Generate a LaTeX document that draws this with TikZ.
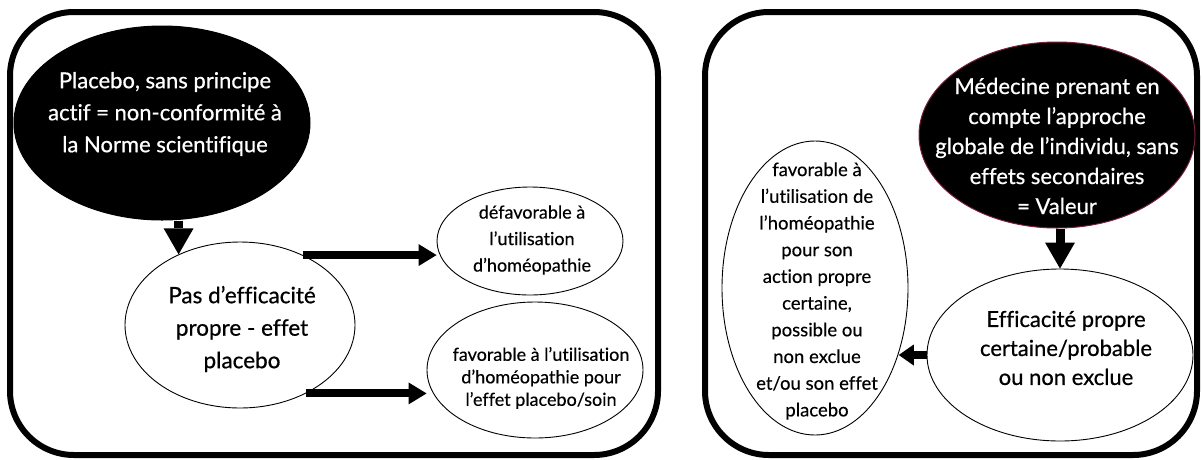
\documentclass[tikz,border=0pt]{standalone}
\usepackage{fontspec}
\setmainfont{Lato}[Ligatures=CommonOff]
\newfontfamily\gillS{Lato}[Ligatures=CommonOff,FakeBold=0.35]
\newfontfamily\gillB{Lato}[Ligatures=CommonOff,FakeBold=0.7]
\usetikzlibrary{arrows.meta,shapes.geometric,calc}
\definecolor{rimred}{HTML}{7A1E3C}
\begin{document}
\begin{tikzpicture}[x=1pt,y=-1pt,
  frame/.style={line width=6pt, rounded corners=64pt},
  blackell/.style={ellipse, fill=black, draw=rimred, line width=1pt, inner sep=0pt},
  whiteell/.style={ellipse, draw=black, line width=0.9pt, fill=white, inner sep=0pt},
  wtxt/.style={text=white, align=center, inner sep=0pt},
  btxt/.style={text=black, align=center, inner sep=0pt},
  bigarrow/.style={line width=9pt, -{Triangle[width=30pt,length=26pt,line width=0pt]}},
  harrow/.style={line width=8pt, -{Triangle[width=22pt,length=18pt,line width=0pt]}},
  sarrow/.style={line width=8pt, -{Triangle[width=21pt,length=15pt,line width=0pt]}},
]
\useasboundingbox (0,0) rectangle (1202,459);
% frames
\draw[frame] (10,12) rectangle (658,455);
\draw[frame] (705,12) rectangle (1197,455);

% left panel
\node[blackell, draw=black, minimum width=296pt, minimum height=194pt] (placebo) at (162,123) {};
\node[wtxt, font=\gillB\fontsize{22}{32}\selectfont] (placebotxt) at (165,114) {Placebo, sans principe\\actif = non-conformité à\\la Norme scientifique};

\node[whiteell, minimum width=230pt, minimum height=166pt] (pas) at (240,325) {};
\node[btxt, font=\gillB\fontsize{22.5}{32.5}\selectfont] (pastxt) at (242,329) {Pas d’efficacité\\propre - effet\\placebo};

\node[whiteell, minimum width=186pt, minimum height=108pt] (def) at (530,241) {};
\node[btxt, font=\gillS\fontsize{18}{26.5}\selectfont] (deftxt) at (532,240) {défavorable à\\l’utilisation\\d’homéopathie};

\node[whiteell, minimum width=216pt, minimum height=136pt] (fav) at (535,370) {};
\node[btxt, font=\gillS\fontsize{18}{22.5}\selectfont] (favtxt) at (541,378) {favorable à l’utilisation\\d’homéopathie pour\\l’effet placebo/soin};

\draw[bigarrow] (placebo.south -| pas.131.5) -- (pas.131.5);
\draw[harrow] (pas.48.5) -- (def.west |- pas.48.5);
\draw[harrow] (pas.-46) -- (fav.west |- pas.-46);

% right panel
\node[blackell, minimum width=276pt, minimum height=186pt] (valeur) at (1057,135) {};
\node[wtxt, font=\gillB\fontsize{22}{30}\selectfont] (valeurtxt) at (1057,146) {Médecine prenant en\\compte l’approche\\globale de l’individu, sans\\effets secondaires\\= Valeur};

\node[whiteell, minimum width=266pt, minimum height=172pt] (eff) at (1060,355) {};
\node[btxt, font=\gillB\fontsize{22}{29}\selectfont] (efftxt) at (1066,348) {Efficacité propre\\certaine/probable\\ou non exclue};

\node[whiteell, minimum width=186pt, minimum height=294pt] (tall) at (815,288) {};
\node[btxt, font=\gillS\fontsize{18.5}{26.7}\selectfont] (talltxt) at (817,291) {favorable à\\l’utilisation de\\l’homéopathie\\pour son\\action propre\\certaine,\\possible ou\\non exclue\\et/ou son effet\\placebo};

\draw[bigarrow] (valeur.south -| eff.north) -- (eff.north);
\draw[sarrow] (eff.west) -- (tall.-38.8 |- eff.west);
\end{tikzpicture}
\end{document}
